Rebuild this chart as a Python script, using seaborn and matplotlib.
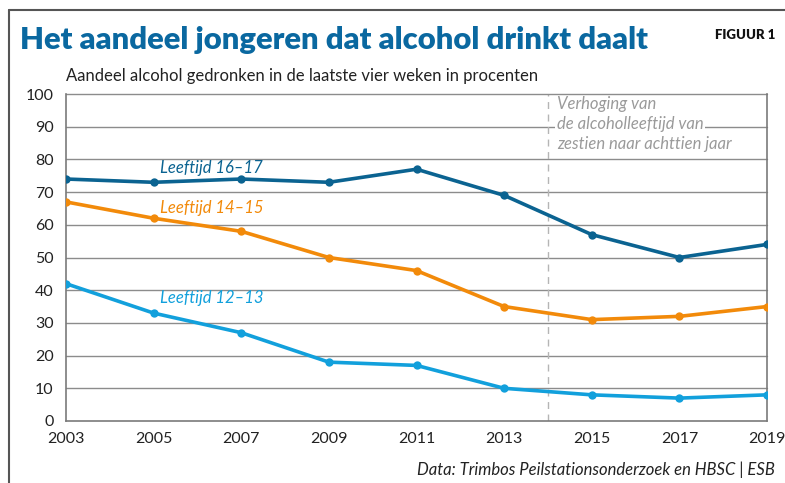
import numpy as np
import pandas as pd
import matplotlib
matplotlib.use("Agg")
import matplotlib.pyplot as plt
from matplotlib.lines import Line2D
import seaborn as sns

# data
jaren = [2003, 2005, 2007, 2009, 2011, 2013, 2015, 2017, 2019]
leeftijd_16_17 = [74, 73, 74, 73, 77, 69, 57, 50, 54]
leeftijd_14_15 = [67, 62, 58, 50, 46, 35, 31, 32, 35]
leeftijd_12_13 = [42, 33, 27, 18, 17, 10, 8, 7, 8]
groepen = ["Leeftijd 16–17", "Leeftijd 14–15", "Leeftijd 12–13"]
kleuren = ["#0b6391", "#f28a0a", "#12a0dc"]
label_pos = [(2005.15, 77.5), (2005.15, 65.2), (2005.15, 37.5)]
y_ticks = list(range(0, 101, 10))
x_ticks = [2003, 2005, 2007, 2009, 2011, 2013, 2015, 2017, 2019]
noot_regels = ["Verhoging van", "de alcoholleeftijd van", "zestien naar achttien jaar"]

df = pd.DataFrame({
    "jaar": jaren * 3,
    "aandeel": leeftijd_16_17 + leeftijd_14_15 + leeftijd_12_13,
    "groep": [g for g in groepen for _ in jaren],
})

sns.set_theme(style="white")
plt.rcParams["font.family"] = ["Lato", "DejaVu Sans"]

fig = plt.figure(figsize=(7.85, 4.83), dpi=100)
ax = fig.add_axes([66 / 785, 1 - 421 / 483, (767 - 66) / 785, (421 - 94) / 483])

for y in y_ticks[1:]:
    # top line stays above the annotation background
    ax.axhline(y, color="#8c8c8c", lw=1.0, zorder=2.5 if y == 100 else 0, clip_on=False)

sns.lineplot(data=df, x="jaar", y="aandeel", hue="groep", palette=dict(zip(groepen, kleuren)),
             marker="o", markersize=6, markeredgewidth=0, linewidth=2.6, legend=False, ax=ax, zorder=3)

ax.axvline(2014, color="#b5b5b5", lw=1.0, ls=(0, (5, 4)), zorder=1)

ax.set_xlim(2003, 2019)
ax.set_ylim(0, 100)
ax.set_xticks(x_ticks)
ax.set_xticks(range(2004, 2019, 2), minor=True)
ax.set_yticks(y_ticks)
ax.set_xlabel("")
ax.set_ylabel("")
for s in ["left", "bottom", "right"]:
    ax.spines[s].set_color("#7a7a7a")
    ax.spines[s].set_linewidth(1.2)
ax.spines["top"].set_visible(False)
ax.tick_params(axis="both", which="both", direction="out", color="#7a7a7a", width=1.2,
               labelsize=11.5, labelcolor="#222222", length=6)
ax.tick_params(axis="x", pad=2)
ax.tick_params(axis="y", pad=3)

for g, c, (lx, ly) in zip(groepen, kleuren, label_pos):
    ax.text(lx, ly, g, color=c, fontsize=12, style="italic", ha="left", va="center")

# annotation, one line at a time so the white background stays tight
for i, regel in enumerate(noot_regels):
    ax.text(2014.2, 96.8 - 6.1 * i, regel, color="#9a9a9a", fontsize=12, style="italic",
            ha="left", va="center",
            bbox=dict(facecolor="white", edgecolor="none", pad=1.5), zorder=2)

fig.text(20 / 785, 1 - 40 / 483, "Het aandeel jongeren dat alcohol drinkt daalt",
         color="#0a68a0", fontsize=22.3, fontweight="heavy", ha="left", va="center")
fig.text(775 / 785, 1 - 35 / 483, "FIGUUR 1", color="#111111", fontsize=9.5,
         fontweight="heavy", ha="right", va="center")
fig.text(66 / 785, 1 - 76 / 483, "Aandeel alcohol gedronken in de laatste vier weken in procenten",
         color="#222222", fontsize=12, ha="left", va="center")
fig.text(775 / 785, 1 - 470 / 483, "Data: Trimbos Peilstationsonderzoek en HBSC | ESB",
         color="#222222", fontsize=12, style="italic", ha="right", va="center")

# frame around the figure
fig.add_artist(Line2D([9 / 785, 1], [1 - 10 / 483] * 2, color="#555555", lw=1.5, transform=fig.transFigure))
fig.add_artist(Line2D([9 / 785] * 2, [0, 1 - 10 / 483], color="#555555", lw=1.5, transform=fig.transFigure))

fig.savefig("out.png", dpi=100)
